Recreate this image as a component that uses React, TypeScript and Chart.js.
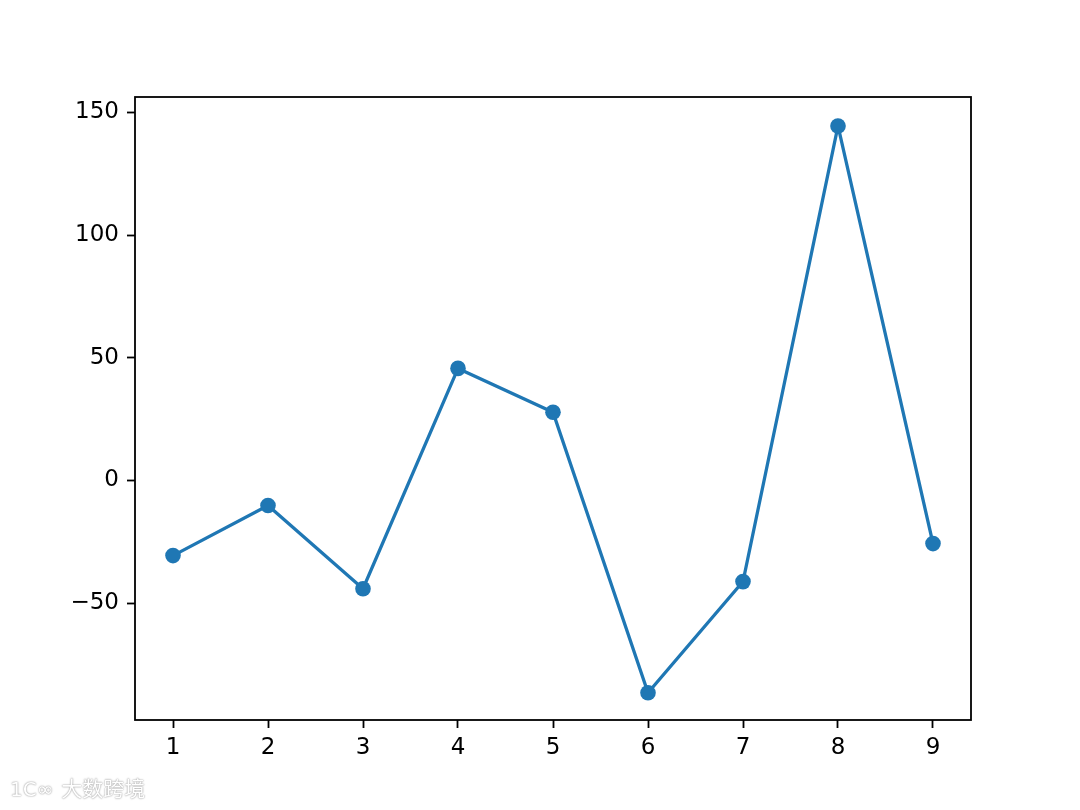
import React, { useEffect, useRef } from "react";
import { Chart, registerables } from "chart.js";

Chart.register(...registerables);

const xValues = [1, 2, 3, 4, 5, 6, 7, 8, 9];
const yValues = [-30.6, -10.2, -44.1, 45.7, 27.8, -86.5, -41.2, 144.5, -25.7];
const xTicks = [1, 2, 3, 4, 5, 6, 7, 8, 9];
const yTicks = [-50, 0, 50, 100, 150];

const frame = {
  id: "frame",
  afterDraw(chart: any) {
    const { ctx, chartArea } = chart;
    ctx.save();
    ctx.strokeStyle = "#000";
    ctx.lineWidth = 1.8;
    ctx.strokeRect(chartArea.left, chartArea.top, chartArea.right - chartArea.left, chartArea.bottom - chartArea.top);
    ctx.restore();
  },
};

export default function App() {
  const ref = useRef<HTMLCanvasElement>(null);
  useEffect(() => {
    if (!ref.current) return;
    const font = { family: "DejaVu Sans", size: 23 };
    const chart = new Chart(ref.current, {
      type: "line",
      data: {
        datasets: [
          {
            data: xValues.map((x, i) => ({ x, y: yValues[i] })),
            borderColor: "#1f77b4",
            backgroundColor: "#1f77b4",
            borderWidth: 3.3,
            pointRadius: 7.8,
            pointBorderWidth: 0,
            tension: 0,
          },
        ],
      },
      options: {
        animation: false,
        responsive: false,
        events: [],
        layout: { padding: { left: 35, top: 97, right: 109, bottom: 30 } },
        plugins: { legend: { display: false }, tooltip: { enabled: false } },
        scales: {
          x: {
            type: "linear",
            min: 0.6,
            max: 9.4,
            afterBuildTicks: (s: any) => { s.ticks = xTicks.map((v) => ({ value: v })); },
            afterFit: (s: any) => { s.height = 60; },
            grid: { drawOnChartArea: false, tickLength: 8, color: "#000", tickWidth: 1.8 },
            border: { display: false },
            ticks: { color: "#000", font, padding: 6, maxRotation: 0, callback: (v: any) => String(v) },
          },
          y: {
            type: "linear",
            min: -97.6,
            max: 156.3,
            afterBuildTicks: (s: any) => { s.ticks = yTicks.map((v) => ({ value: v })); },
            afterFit: (s: any) => { s.width = 100; },
            grid: { drawOnChartArea: false, tickLength: 8, color: "#000", tickWidth: 1.8 },
            border: { display: false },
            ticks: { color: "#000", font, padding: 8, callback: (v: any) => String(v).replace("-", "\u2212") },
          },
        },
      },
      plugins: [frame],
    });
    return () => chart.destroy();
  }, []);
  return (
    <div style={{ position: "absolute", left: 0, top: 0, width: 1080, height: 810, background: "#fff" }}>
      <canvas ref={ref} width={1080} height={810} style={{ display: "block" }} />
      <div
        style={{
          position: "absolute",
          left: 10,
          top: 772,
          fontFamily: "Noto Sans CJK SC",
          fontSize: 21,
          color: "#fff",
          textShadow: "0 0 2px #999, 0 0 1px #aaa",
          letterSpacing: 0,
        }}
      >
        <span style={{ fontFamily: "DejaVu Sans", fontSize: 20, marginRight: 8 }}>1C∞</span>大数跨境
      </div>
    </div>
  );
}
